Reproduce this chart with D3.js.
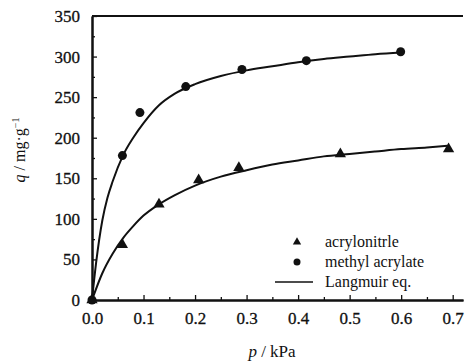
<!DOCTYPE html>
<html>
<head>
<meta charset="utf-8">
<script src="https://cdn.jsdelivr.net/npm/d3@7"></script>
<style>
  body { margin: 0; background: #fff; }
</style>
</head>
<body>
<div id="chart"></div>
<script>
// measured points
const acrylonitrile = [
  [0, 0], [0.059, 68], [0.13, 118], [0.207, 148], [0.285, 163], [0.482, 180], [0.692, 186]
];
const methylAcrylate = [
  [0, 0], [0.059, 178], [0.093, 231], [0.182, 263], [0.291, 284], [0.416, 295], [0.599, 306]
];
// fitted curves
const fitAcrylonitrile = [
  [0, 0], [0.02, 33], [0.04, 57], [0.06, 76], [0.08, 91], [0.1, 104], [0.13, 118],
  [0.16, 129], [0.2, 141], [0.25, 152], [0.3, 160], [0.35, 167], [0.4, 172],
  [0.45, 177], [0.5, 180], [0.55, 183], [0.6, 186], [0.65, 188], [0.69, 190]
];
const fitMethylAcrylate = [
  [0, 0], [0.008, 46], [0.02, 98], [0.03, 126], [0.04, 146], [0.06, 178], [0.08, 200],
  [0.1, 218], [0.13, 240], [0.16, 254], [0.2, 266], [0.25, 276], [0.3, 283],
  [0.35, 288], [0.4, 293], [0.45, 297], [0.5, 300], [0.55, 303], [0.6, 305]
];
const xTicks = [0, 0.1, 0.2, 0.3, 0.4, 0.5, 0.6, 0.7];
const xMinor = [0.05, 0.15, 0.25, 0.35, 0.45, 0.55, 0.65];
const yTicks = [0, 50, 100, 150, 200, 250, 300, 350];
const yMinor = [25, 75, 125, 175, 225, 275, 325];
const legendItems = ['acrylonitrle', 'methyl acrylate', 'Langmuir eq.'];

const serif = 'Liberation Serif';
const width = 471, height = 364;
const margin = { top: 16, right: 8, bottom: 64, left: 92 };
const innerW = width - margin.left - margin.right;
const innerH = height - margin.top - margin.bottom;

const svg = d3.select('#chart').append('svg')
  .attr('width', width)
  .attr('height', height)
  .attr('font-family', serif);

const g = svg.append('g')
  .attr('transform', `translate(${margin.left},${margin.top})`);

const x = d3.scaleLinear().domain([0, 0.72]).range([0, innerW]);
const y = d3.scaleLinear().domain([0, 350]).range([innerH, 0]);

// axes, ticks pointing inward
const xAxis = g.append('g')
  .attr('transform', `translate(0,${innerH})`)
  .call(d3.axisBottom(x).tickValues(xTicks).tickSizeInner(-5).tickSizeOuter(0)
    .tickPadding(12).tickFormat(d3.format('.1f')));
g.append('g')
  .attr('transform', `translate(0,${innerH})`)
  .call(d3.axisBottom(x).tickValues(xMinor).tickSizeInner(-3).tickSizeOuter(0).tickFormat(''));

const yAxis = g.append('g')
  .call(d3.axisLeft(y).tickValues(yTicks).tickSizeInner(-5).tickSizeOuter(0).tickPadding(12));
g.append('g')
  .call(d3.axisLeft(y).tickValues(yMinor).tickSizeInner(-3).tickSizeOuter(0).tickFormat(''));

g.selectAll('g').attr('font-family', serif).attr('font-size', 17);
g.selectAll('.domain').attr('stroke', '#111').attr('stroke-width', 2);
g.selectAll('.tick line').attr('stroke', '#111').attr('stroke-width', 1.3);
[xAxis, yAxis].forEach(a => a.selectAll('text')
  .attr('font-family', serif)
  .attr('font-size', 17)
  .attr('fill', '#111')
  .attr('stroke', '#111')
  .attr('stroke-width', 0.3));

// top border
g.append('line')
  .attr('x1', 0).attr('x2', innerW)
  .attr('y1', 0).attr('y2', 0)
  .attr('stroke', '#111').attr('stroke-width', 2);

const line = d3.line()
  .x(d => x(d[0]))
  .y(d => y(d[1]))
  .curve(d3.curveMonotoneX);

[fitAcrylonitrile, fitMethylAcrylate].forEach(s => {
  g.append('path')
    .datum(s)
    .attr('d', line)
    .attr('fill', 'none')
    .attr('stroke', '#111')
    .attr('stroke-width', 2);
});

g.selectAll('.dot')
  .data(methylAcrylate)
  .enter()
  .append('circle')
  .attr('cx', d => x(d[0]))
  .attr('cy', d => y(d[1]))
  .attr('r', 4.5)
  .attr('fill', '#111');

const tri = d3.symbol().type(d3.symbolTriangle).size(55);
g.selectAll('.tri')
  .data(acrylonitrile)
  .enter()
  .append('path')
  .attr('d', tri)
  .attr('transform', d => `translate(${x(d[0])},${y(d[1])})`)
  .attr('fill', '#111');

// legend
const legend = svg.append('g').attr('transform', 'translate(275, 242)');
legendItems.forEach((label, i) => {
  const row = legend.append('g').attr('transform', `translate(0, ${i * 20})`);
  if (i === 0) {
    row.append('path').attr('d', d3.symbol().type(d3.symbolTriangle).size(30))
      .attr('transform', 'translate(22,0)').attr('fill', '#111');
  } else if (i === 1) {
    row.append('circle').attr('cx', 22).attr('cy', 0).attr('r', 3.5).attr('fill', '#111');
  } else {
    row.append('line').attr('x1', 0).attr('x2', 38).attr('y1', 0).attr('y2', 0)
      .attr('stroke', '#111').attr('stroke-width', 1.5);
  }
  row.append('text')
    .attr('x', 50)
    .attr('y', 0)
    .attr('dy', '0.32em')
    .attr('font-family', serif)
    .attr('font-size', 16)
    .attr('fill', '#111')
    .text(label);
});

// axis titles
svg.append('text')
  .attr('x', 272)
  .attr('y', 357)
  .attr('text-anchor', 'middle')
  .attr('font-family', serif)
  .attr('font-size', 17)
  .attr('fill', '#111')
  .html('<tspan font-style="italic">p</tspan> / kPa');

svg.append('text')
  .attr('transform', 'translate(25,150) rotate(-90)')
  .attr('text-anchor', 'middle')
  .attr('font-family', serif)
  .attr('font-size', 16)
  .attr('fill', '#111')
  .html('<tspan font-style="italic">q</tspan> / mg·g<tspan dy="-6" font-size="10px">−1</tspan>');
</script>
</body>
</html>
